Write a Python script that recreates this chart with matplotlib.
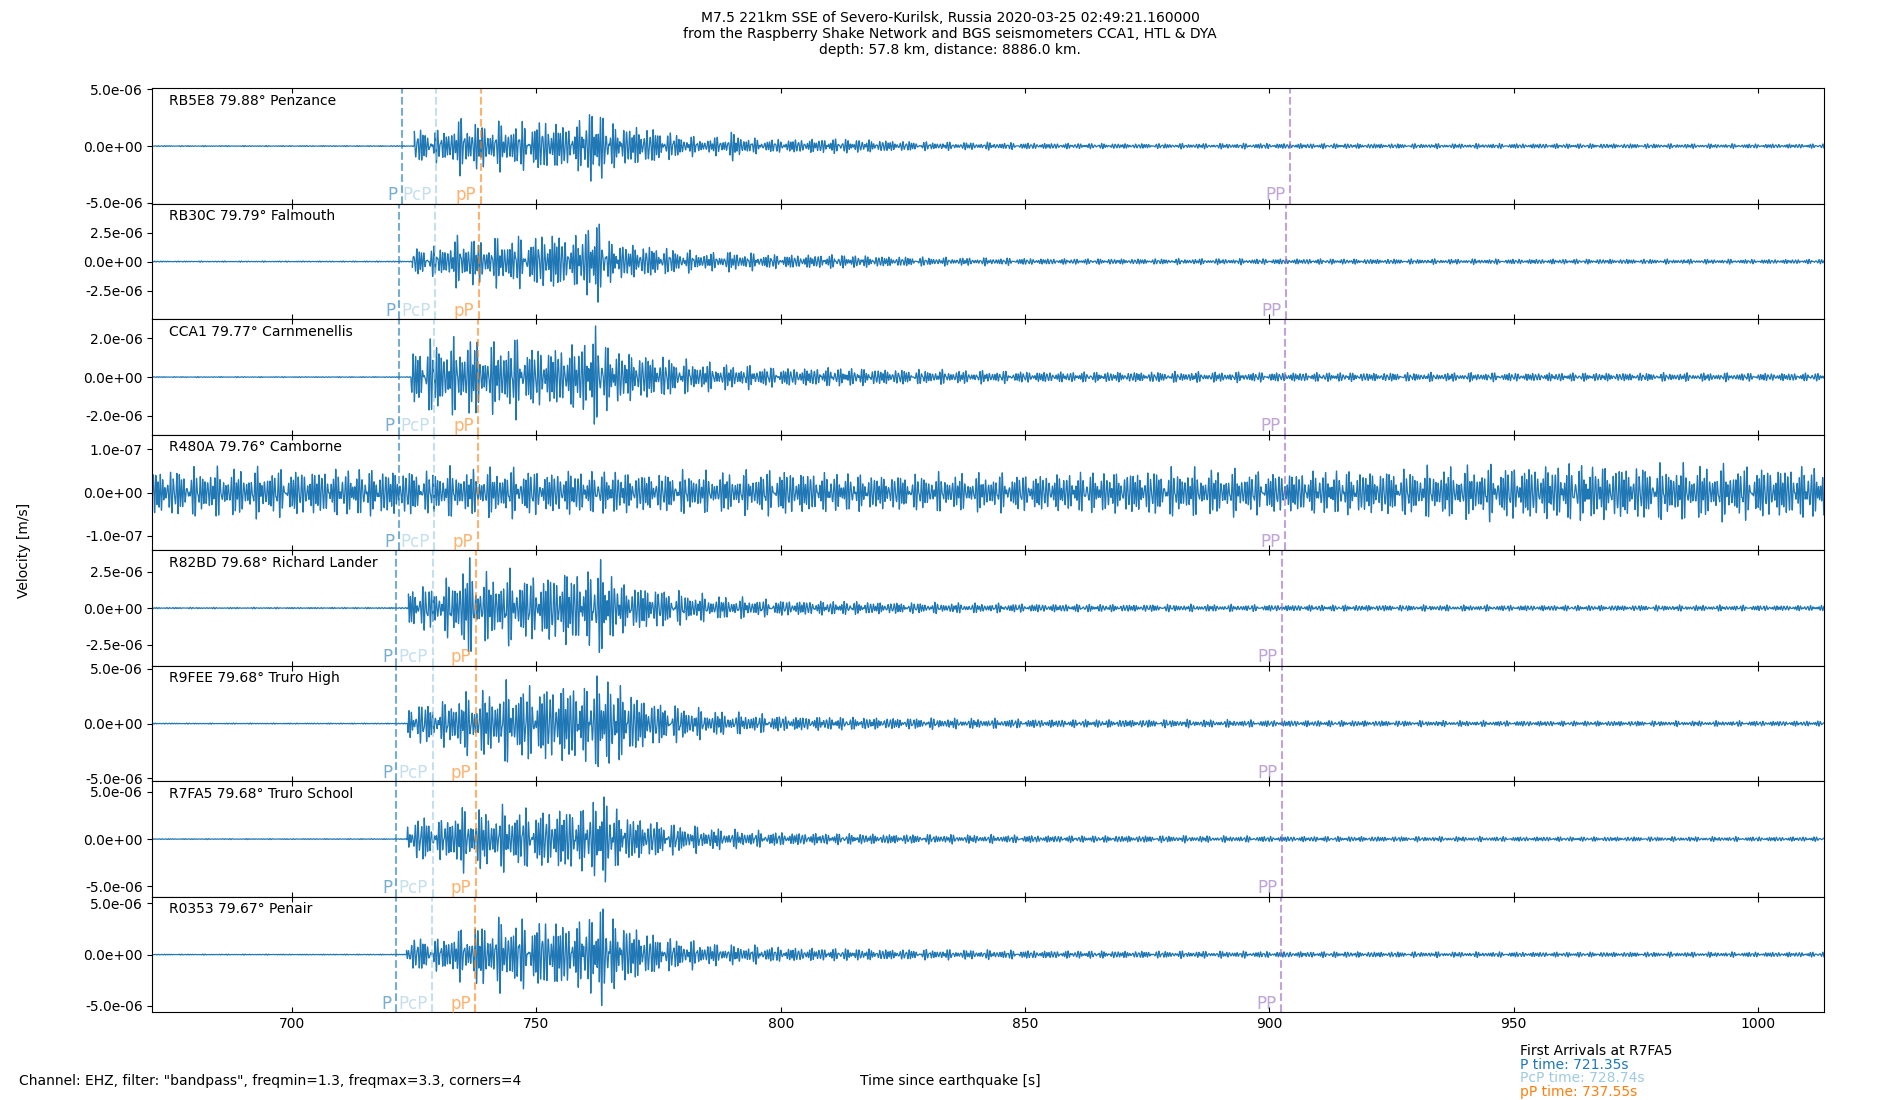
import numpy as np
import matplotlib
matplotlib.use("Agg")
import matplotlib.pyplot as plt
from matplotlib.ticker import FormatStrFormatter

# stations (top to bottom) and their labels
stations = ["RB5E8", "RB30C", "CCA1", "R480A", "R82BD", "R9FEE", "R7FA5", "R0353"]
distances = [79.88, 79.79, 79.77, 79.76, 79.68, 79.68, 79.68, 79.67]
places = ["Penzance", "Falmouth", "Carnmenellis", "Camborne", "Richard Lander",
          "Truro High", "Truro School", "Penair"]

# arrival times [s]
p_times = [722.45, 721.96, 721.85, 721.79, 721.35, 721.35, 721.35, 721.30]
pcp_times = [729.54, 729.18, 729.10, 729.06, 728.74, 728.74, 728.74, 728.70]
pp_small_times = [738.65, 738.16, 738.05, 737.99, 737.55, 737.55, 737.55, 737.50]
pp_times = [904.15, 903.43, 903.27, 903.19, 902.55, 902.55, 902.55, 902.47]

# y limits and tick steps (x1e-6 m/s)
ylims = [5.1, 4.97, 2.97, 0.134, 3.96, 5.28, 6.13, 5.62]
yticks = [5.0, 2.5, 2.0, 0.1, 2.5, 5.0, 5.0, 5.0]

# trace envelope (peak amplitude, x1e-6 m/s) at these times
key_t = [672, 724, 727, 730, 733, 736, 738, 741, 745, 749, 753, 757, 760, 762, 763.5,
         765, 768, 772, 776, 780, 785, 790, 795, 800, 810, 820, 830, 845, 860, 880,
         900, 930, 960, 990, 1014]
env_RB5E8 = [1.2, 1.2, 1.3, 1.1, 1.6, 2.3, 1.6, 1.7, 1.6, 1.8, 2.0, 1.5, 2.2, 3.2, 2.3,
             1.7, 1.5, 1.5, 1.1, 0.8, 0.5, 1.0, 0.5, 0.5, 0.55, 0.45, 0.3, 0.25, 0.2, 0.18,
             0.2, 0.17, 0.18, 0.16, 0.16]
env_RB30C = [0.9, 0.9, 1.1, 1.0, 1.6, 2.0, 1.5, 1.6, 1.8, 1.7, 2.3, 1.6, 2.4, 3.5, 2.2,
             1.5, 1.3, 1.2, 1.0, 0.8, 0.6, 0.7, 0.55, 0.5, 0.5, 0.4, 0.3, 0.25, 0.2, 0.2,
             0.2, 0.18, 0.18, 0.16, 0.16]
env_CCA1 = [0.8, 1.0, 1.5, 1.6, 1.5, 1.8, 1.5, 1.4, 1.7, 1.3, 1.3, 1.4, 1.6, 2.2, 1.6,
            1.3, 1.1, 1.0, 0.9, 0.7, 0.6, 0.5, 0.45, 0.4, 0.4, 0.35, 0.3, 0.25, 0.22, 0.22,
            0.2, 0.18, 0.18, 0.17, 0.17]
env_R480A = [0.045, 0.045, 0.04, 0.045, 0.045, 0.04, 0.045, 0.045, 0.045, 0.045, 0.04, 0.045,
             0.04, 0.04, 0.04, 0.045, 0.04, 0.038, 0.038, 0.04, 0.038, 0.038, 0.04, 0.045,
             0.038, 0.035, 0.035, 0.035, 0.038, 0.045, 0.04, 0.045, 0.055, 0.05, 0.05]
env_R82BD = [1.2, 1.3, 1.3, 1.2, 1.8, 2.8, 1.9, 1.9, 2.0, 1.8, 2.0, 2.3, 1.9, 2.5, 2.9,
             2.0, 1.4, 1.3, 1.1, 0.9, 0.7, 0.6, 0.5, 0.45, 0.4, 0.35, 0.3, 0.25, 0.22, 0.2,
             0.18, 0.17, 0.16, 0.16, 0.15]
env_R9FEE = [1.3, 1.4, 1.6, 1.4, 2.0, 2.3, 2.3, 2.5, 3.0, 2.8, 3.0, 3.2, 2.8, 3.6, 4.0,
             3.2, 2.8, 2.0, 1.5, 1.3, 1.0, 0.8, 0.7, 0.6, 0.5, 0.45, 0.4, 0.35, 0.3, 0.3,
             0.25, 0.22, 0.2, 0.2, 0.2]
env_R7FA5 = [1.5, 1.5, 2.1, 1.5, 2.6, 2.7, 2.6, 2.5, 2.8, 2.5, 2.7, 3.0, 2.7, 3.6, 4.5,
             3.0, 2.2, 1.8, 1.5, 1.2, 1.0, 0.8, 0.7, 0.6, 0.5, 0.45, 0.4, 0.35, 0.3, 0.3,
             0.25, 0.22, 0.2, 0.2, 0.2]
env_R0353 = [1.2, 1.3, 1.4, 1.2, 1.9, 2.0, 2.4, 2.7, 2.8, 2.6, 3.0, 2.6, 2.8, 3.8, 4.2,
             3.0, 2.5, 2.0, 1.4, 1.2, 0.9, 0.75, 0.7, 0.6, 0.5, 0.45, 0.4, 0.35, 0.3, 0.28,
             0.25, 0.22, 0.2, 0.2, 0.2]
envelopes = [env_RB5E8, env_RB30C, env_CCA1, env_R480A, env_R82BD, env_R9FEE, env_R7FA5, env_R0353]
onsets = [725.0, 724.6, 724.3, 672.0, 723.8, 723.7, 723.5, 723.4]  # first motion
pre_noise = [0.04, 0.04, 0.02, 0.045, 0.04, 0.04, 0.04, 0.04]

t_start, t_end = 671.4, 1013.5
t = np.arange(t_start, t_end, 0.01)  # 100 sps

# band-limited wiggle (around 2 Hz) to carry the envelope
freqs = [1.45, 1.68, 1.87, 2.06, 2.31]
phases = [0.0, 1.1, 2.3, 0.4, 3.0]

fig, axes = plt.subplots(8, 1, sharex=True, figsize=(19, 11), dpi=100)
fig.subplots_adjust(left=0.0802, right=0.96, top=0.9197, bottom=0.0797, hspace=0)

for i, ax in enumerate(axes):
    wig = np.zeros_like(t)
    for k, (f, ph) in enumerate(zip(freqs, phases)):
        wig += np.sin(2 * np.pi * f * t + ph + 0.9 * i * (k + 1))
    wig /= 1.9 * np.sqrt(np.mean(wig ** 2))
    env = np.interp(t, key_t, envelopes[i])
    env = np.where(t < onsets[i], pre_noise[i], env)
    y = env * wig * 1e-6
    ax.plot(t, y, color="C0", lw=0.9)

    for tt, col, lab in [(p_times[i], "C0", "P"), (pcp_times[i], "#9ecae1", "PcP"),
                         (pp_small_times[i], "C1", "pP"), (pp_times[i], "C4", "PP")]:
        ax.axvline(tt, color=col, ls="--", lw=1.5, alpha=0.6)
        ax.text(tt - 0.9, 0.03, lab, color=col, alpha=0.6, fontsize=12,
                ha="right", va="baseline", transform=ax.get_xaxis_transform())

    ax.set_ylim(-ylims[i] * 1e-6, ylims[i] * 1e-6)
    ax.set_yticks([-yticks[i] * 1e-6, 0, yticks[i] * 1e-6])
    ax.yaxis.set_major_formatter(FormatStrFormatter("%.1e"))
    ax.tick_params(axis="x", direction="in", top=True)
    ax.text(0.01, 0.955, "%s %.2f° %s" % (stations[i], distances[i], places[i]),
            transform=ax.transAxes, fontsize=10, va="top")

axes[-1].set_xlim(t_start, t_end)
axes[-1].set_xticks([700, 750, 800, 850, 900, 950, 1000])

fig.suptitle("M7.5 221km SSE of Severo-Kurilsk, Russia 2020-03-25 02:49:21.160000\n"
             "from the Raspberry Shake Network and BGS seismometers CCA1, HTL & DYA\n"
             "depth: 57.8 km, distance: 8886.0 km.", fontsize=10, y=0.99)
fig.text(0.009, 0.5, "Velocity [m/s]", rotation=90, va="center", ha="left", fontsize=10)
fig.text(0.5, 0.0173, "Time since earthquake [s]", ha="center", va="center", fontsize=10)
fig.text(0.01, 0.0173, 'Channel: EHZ, filter: "bandpass", freqmin=1.3, freqmax=3.3, corners=4',
         ha="left", va="center", fontsize=10)

# first arrivals box (R7FA5)
arr_lines = [("First Arrivals at R7FA5", "black"),
             ("P time: 721.35s", "C0"),
             ("PcP time: 728.74s", "#9ecae1"),
             ("pP time: 737.55s", "C1")]
for j, (txt, col) in enumerate(arr_lines):
    fig.text(0.8, 0.0445 - j * 0.01245, txt, color=col, ha="left", va="center", fontsize=10)

fig.savefig("out.png", dpi=100)
